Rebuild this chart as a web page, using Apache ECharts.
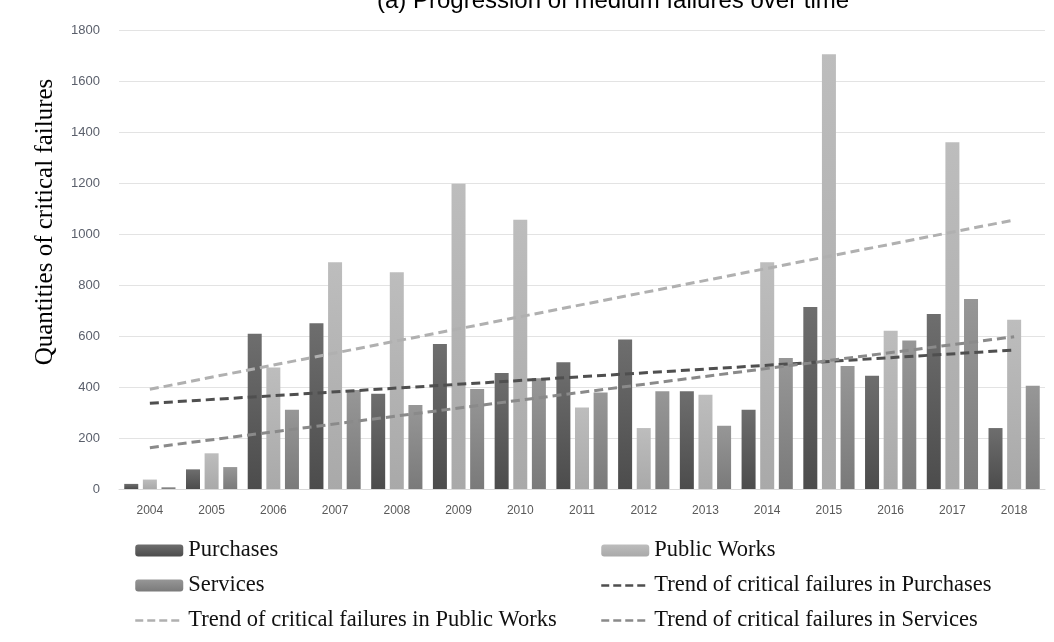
<!DOCTYPE html>
<html>
<head>
<meta charset="utf-8">
<script src="https://cdn.jsdelivr.net/npm/echarts@6/dist/echarts.min.js"></script>
<style>
  html, body { margin: 0; padding: 0; background: #fff; }
  #chart { width: 1054px; height: 642px; }
</style>
</head>
<body>
<div id="chart"></div>
<script>
// values
const years = ['2004', '2005', '2006', '2007', '2008', '2009', '2010', '2011', '2012', '2013', '2014', '2015', '2016', '2017', '2018']
const purchases = [20, 77, 609, 650, 374, 569, 455, 497, 586, 383, 311, 714, 444, 686, 239]
const publicWorks = [37, 140, 476, 889, 850, 1197, 1056, 320, 239, 370, 889, 1705, 621, 1360, 664]
const services = [7, 86, 311, 388, 329, 392, 434, 378, 383, 248, 514, 482, 582, 745, 405]

// trend lines: only the two end points are drawn
const trendYears = ['2004', '2018']
const trendPurchases = [336, 545]
const trendPublicWorks = [391, 1055]
const trendServices = [162, 597]

const pairs = (xs, ys) => xs.map((x, i) => [x, ys[i]])

const gradient = (top, bottom) => new echarts.graphic.LinearGradient(0, 0, 0, 1, [
  { offset: 0, color: top },
  { offset: 1, color: bottom }
])

const barSeries = (name, data, top, bottom) => ({
  name: name,
  type: 'bar',
  data: data,
  barWidth: 14,
  barGap: '33%',
  itemStyle: { color: gradient(top, bottom) }
})

const trendSeries = (name, data, color) => ({
  name: name,
  type: 'line',
  data: pairs(trendYears, data),
  symbol: 'none',
  z: 5,
  itemStyle: { color: color },
  lineStyle: { color: color, width: 3, type: [9, 5] }
})

const legendText = {
  fontFamily: 'Liberation Serif',
  fontSize: 22.5,
  color: '#111'
}

// legend entry for a trend: dashed line only, no symbol
const trendItem = (name) => ({
  name: name,
  itemStyle: { opacity: 0 },
  lineStyle: { width: 2.5, type: [8, 4] }
})

const chart = echarts.init(document.getElementById('chart'))

const option = {
  animation: false,
  backgroundColor: '#fff',
  title: {
    text: '(a) Progression of medium failures over time',
    left: 372,
    top: -16,
    textStyle: {
      fontFamily: 'Liberation Sans',
      fontSize: 24,
      fontWeight: 'normal',
      color: '#000'
    }
  },
  graphic: [
    {
      type: 'text',
      x: 45,
      y: 222,
      rotation: Math.PI / 2,
      style: {
        text: 'Quantities of critical failures',
        fontFamily: 'Liberation Serif',
        fontSize: 25,
        fill: '#000',
        align: 'center',
        verticalAlign: 'middle'
      }
    }
  ],
  legend: [
    {
      left: 129,
      top: 534,
      orient: 'vertical',
      itemGap: 12,
      itemWidth: 48,
      itemHeight: 12,
      textStyle: legendText,
      data: ['Purchases', 'Services', trendItem('Trend of critical failures in Public Works')]
    },
    {
      left: 595,
      top: 534,
      orient: 'vertical',
      itemGap: 12,
      itemWidth: 48,
      itemHeight: 12,
      textStyle: legendText,
      data: ['Public Works', trendItem('Trend of critical failures in Purchases'), trendItem('Trend of critical failures in Services')]
    }
  ],
  grid: {
    left: 119,
    right: 9,
    top: 30,
    bottom: 153
  },
  xAxis: {
    type: 'category',
    data: years,
    axisLine: { lineStyle: { color: '#d9d9d9' } },
    axisTick: { show: false },
    axisLabel: {
      margin: 16,
      color: '#595959',
      fontFamily: 'Liberation Sans',
      fontSize: 12
    }
  },
  yAxis: {
    type: 'value',
    min: 0,
    max: 1800,
    interval: 200,
    axisLine: { show: false },
    axisTick: { show: false },
    axisLabel: {
      margin: 19,
      color: '#5a5f6b',
      fontFamily: 'Liberation Sans',
      fontSize: 13,
      formatter: (v) => String(v)
    },
    splitLine: { lineStyle: { color: '#e3e3e3' } }
  },
  series: [
    barSeries('Purchases', purchases, '#6e6e6e', '#4c4c4c'),
    barSeries('Public Works', publicWorks, '#bdbdbd', '#a9a9a9'),
    barSeries('Services', services, '#979797', '#7a7a7a'),
    trendSeries('Trend of critical failures in Purchases', trendPurchases, '#4f4f4f'),
    trendSeries('Trend of critical failures in Public Works', trendPublicWorks, '#b0b0b0'),
    trendSeries('Trend of critical failures in Services', trendServices, '#8a8a8a')
  ]
}

chart.setOption(option)
</script>
</body>
</html>
